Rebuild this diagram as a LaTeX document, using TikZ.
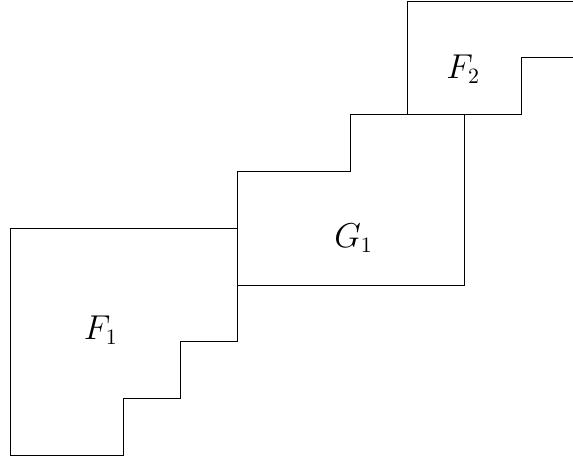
\documentclass[tikz,border=0pt]{standalone}
\begin{document}
\begin{tikzpicture}[x=1cm,y=1cm,
  region/.style={draw=black,line width=0.45pt},
  lbl/.style={font=\fontsize{16}{19}\selectfont}]
\clip (-0.176,-0.063) rectangle (9.912,8.018);
\useasboundingbox (-0.176,-0.063) rectangle (9.912,8.018);
% F1
\draw[region] (0,4) -- (4,4) -- (4,2) -- (3,2) -- (3,1) -- (2,1) -- (2,0) -- (0,0) -- cycle;
% G1
\draw[region] (4,5) -- (6,5) -- (6,6) -- (8,6) -- (8,3) -- (4,3) -- cycle;
% F2
\draw[region] (7,6) -- (7,8) -- (10.5,8) -- (10.5,7) -- (9,7) -- (9,6) -- cycle;
\node[lbl] (f1) at (1.6,2.2) {$F_1$};
\node[lbl] (g1) at (6.05,3.82) {$G_1$};
\node[lbl] (f2) at (7.98,6.8) {$F_2$};
\end{tikzpicture}
\end{document}
